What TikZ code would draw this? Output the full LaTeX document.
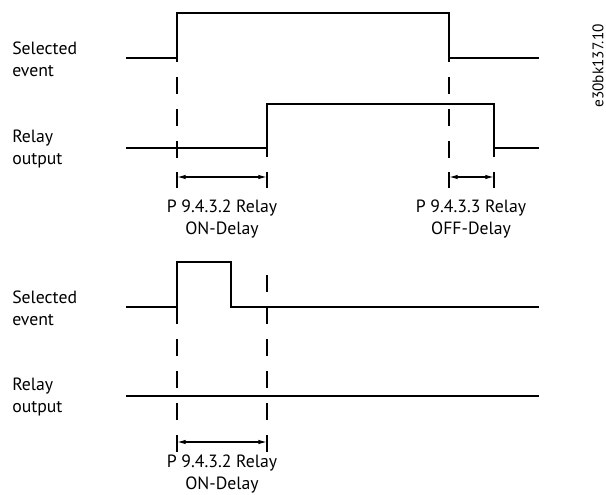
\documentclass[tikz,border=0pt]{standalone}
\usepackage{fontspec}
\setmainfont{PT Sans}
\usetikzlibrary{arrows.meta}
\begin{document}
\begin{tikzpicture}[x=0.75pt,y=-0.75pt,
  sigline/.style={line width=0.9pt},
  guide/.style={line width=0.9pt, dash pattern=on 12.4pt off 11.6pt},
  delay/.style={line width=0.9pt, {Latex[length=6.5pt,width=3.4pt]}-{Latex[length=6.5pt,width=3.4pt]}},
  rowlabel/.style={align=left, anchor=west, inner sep=0pt, font=\fontsize{13.3}{16.5}\selectfont},
  delaytext/.style={align=center, inner sep=0pt, font=\fontsize{13.3}{16.5}\selectfont}]
\useasboundingbox (0,0) rectangle (606,495);

\node[rowlabel] (sel1) at (12,59) {Selected\\event};
\node[rowlabel] (rel1) at (12,149) {Relay\\output};
\draw[sigline] (126,58) -- (177,58) -- (177,13) -- (449,13) -- (449,58) -- (539,58);
\draw[sigline] (126,148) -- (267,148) -- (267,104) -- (494,104) -- (494,148) -- (539,148);
\draw[sigline] (267,148) -- (267,157);
\draw[sigline] (494,148) -- (494,157);
\draw[guide] (177,158) -- (177,13);
\draw[guide] (449,158) -- (449,58);

\coordinate (on1a) at (177,177);
\coordinate (on1b) at (267,177);
\coordinate (off1a) at (449,177);
\coordinate (off1b) at (494,177);
\foreach \t in {on1a,on1b,off1a,off1b}
  \draw[sigline] ([yshift=3.75pt]\t) -- ([yshift=-8.25pt]\t);
\draw[delay] (on1a) -- (on1b);
\draw[delay] (off1a) -- (off1b);
\node[delaytext] (ontext1) at (222,219) {P 9.4.3.2 Relay\\ON-Delay};
\node[delaytext] (offtext1) at (471,219) {P 9.4.3.3 Relay\\OFF-Delay};

\node[rowlabel] (sel2) at (12,308) {Selected\\event};
\node[rowlabel] (rel2) at (12,397) {Relay\\output};
\draw[sigline] (126,307) -- (177,307) -- (177,262) -- (231,262) -- (231,307) -- (539,307);
\draw[sigline] (126,396) -- (539,396);
\draw[guide] (177,420) -- (177,262);
\draw[guide] (267,420) -- (267,270);

\coordinate (on2a) at (177,442);
\coordinate (on2b) at (267,442);
\foreach \t in {on2a,on2b}
  \draw[sigline] ([yshift=5.25pt]\t) -- ([yshift=-7.5pt]\t);
\draw[delay] (on2a) -- (on2b);
\node[delaytext] (ontext2) at (222,474) {P 9.4.3.2 Relay\\ON-Delay};

\node[rotate=90, inner sep=0pt, font=\fontsize{11.5}{14}\selectfont] (code) at (598,66) {e30bk137.10};
\end{tikzpicture}
\end{document}
